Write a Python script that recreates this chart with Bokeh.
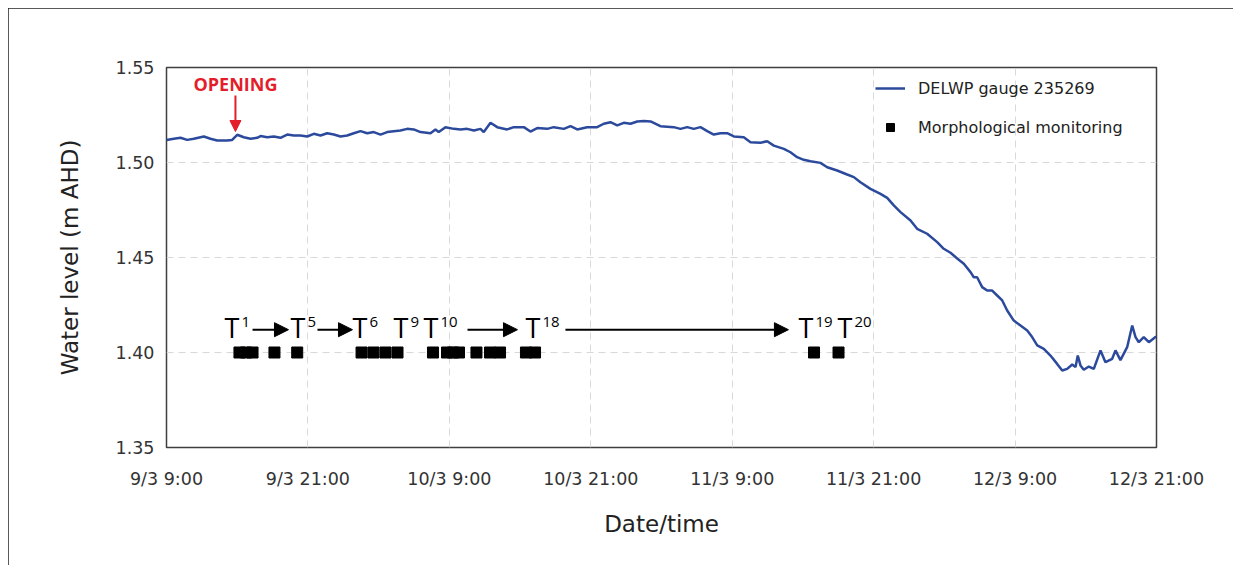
from bokeh.plotting import figure
from bokeh.models import (ColumnDataSource, FixedTicker, Legend, LegendItem,
                          Arrow, NormalHead, Label)
from bokeh.core.properties import value
from bokeh.embed import file_html
from bokeh.resources import INLINE

# ---------------- data ----------------
# hours since 9/3 9:00
hours = [0.0, 0.62, 1.19, 1.75, 2.32, 3.17, 3.73, 4.30, 5.15, 5.57, 6.00, 6.56, 7.13, 7.69,
         7.98, 8.54, 9.11, 9.67, 10.24, 10.80, 11.37, 11.94, 12.50, 13.07, 13.63, 14.20,
         14.76, 15.33, 15.89, 16.46, 17.03, 17.59, 18.16, 18.72, 19.29, 19.85, 20.42, 20.98,
         21.55, 22.40, 22.82, 23.10, 23.67, 24.38, 24.94, 25.51, 26.08, 26.64, 26.92, 27.49,
         28.06, 28.90, 29.47, 30.32, 30.88, 31.45, 32.30, 32.86, 33.71, 34.28, 34.85, 35.69,
         36.54, 37.10, 37.67, 38.24, 38.80, 39.37, 39.94, 40.50, 41.07, 41.91, 43.04,
         43.61, 44.18, 44.74, 45.31, 45.88, 46.44, 47.00, 47.57, 48.14, 48.98, 49.55, 50.40,
         50.97, 51.53, 52.38, 52.94, 53.51, 54.07, 54.64, 55.49, 56.06, 56.90, 57.75, 58.32,
         58.88, 59.73, 60.58, 61.15, 61.71, 62.28, 63.13, 63.69, 64.54, 65.39, 65.95, 66.52,
         67.09, 67.65, 68.22, 68.50, 68.78, 69.21, 69.63, 70.06, 70.48, 70.91, 71.33, 71.89,
         72.46, 73.03, 73.45, 73.88, 74.44, 75.00, 75.57, 76.00, 76.42, 76.85, 77.13, 77.32,
         77.55, 77.83, 78.26, 78.68, 79.25, 79.67, 80.24, 80.52, 80.94, 81.51, 81.94, 82.22,
         82.50, 82.92, 83.35, 83.91, 84.0]
level = [1.5119, 1.5125, 1.5130, 1.5119, 1.5125, 1.5137, 1.5125, 1.5116, 1.5116, 1.5119,
         1.5146, 1.5133, 1.5125, 1.5130, 1.5139, 1.5133, 1.5137, 1.5130, 1.5147, 1.5142,
         1.5142, 1.5137, 1.5151, 1.5142, 1.5154, 1.5147, 1.5137, 1.5142, 1.5154, 1.5165,
         1.5154, 1.5160, 1.5147, 1.5160, 1.5165, 1.5168, 1.5177, 1.5174,
         1.5160, 1.5154, 1.5174, 1.5160, 1.5186, 1.5177, 1.5174, 1.5177, 1.5168, 1.5177,
         1.5160, 1.5209, 1.5186, 1.5174, 1.5186, 1.5186, 1.5163, 1.5181, 1.5177, 1.5186,
         1.5177, 1.5191, 1.5174, 1.5186, 1.5186, 1.5204, 1.5212, 1.5195, 1.5209, 1.5204,
         1.5216, 1.5218, 1.5216, 1.5191, 1.5186,
         1.5177, 1.5186, 1.5177, 1.5186, 1.5165, 1.5147, 1.5154, 1.5154, 1.5137, 1.5133,
         1.5107, 1.5104, 1.5112, 1.5089, 1.5072, 1.5054, 1.5028, 1.5014, 1.5007, 1.4998,
         1.4975, 1.4958, 1.4937, 1.4923, 1.4896, 1.4861, 1.4835, 1.4814, 1.4774, 1.4739,
         1.4695, 1.4651, 1.4625, 1.4581, 1.4546, 1.4525,
         1.4495, 1.4467, 1.4423, 1.4396, 1.4396, 1.4344, 1.4326, 1.4326, 1.4300, 1.4274,
         1.4221, 1.4168, 1.4142, 1.4116, 1.4081, 1.4037, 1.4019, 1.3984, 1.3940, 1.3905,
         1.3914, 1.3937, 1.3923, 1.3984, 1.3932, 1.3909, 1.3926, 1.3914, 1.4011, 1.3949,
         1.3967, 1.4011, 1.3960, 1.4028, 1.4142, 1.4081, 1.4054, 1.4081, 1.4054, 1.4081,
         1.4081]

survey_hours = [6.19, 6.75, 7.30, 9.16, 11.09, 16.55, 17.56, 18.58, 19.60, 22.61, 23.80,
                24.31, 24.82, 26.30, 27.45, 28.30, 30.50, 31.27, 54.94, 57.02]
survey_level = [1.40] * len(survey_hours)

x_tick_hours = [0, 12, 24, 36, 48, 60, 72, 84]
x_tick_labels = ["9/3 9:00", "9/3 21:00", "10/3 9:00", "10/3 21:00",
                 "11/3 9:00", "11/3 21:00", "12/3 9:00", "12/3 21:00"]
y_ticks = [1.35, 1.40, 1.45, 1.50, 1.55]

survey_tags = ["1", "5", "6", "9", "10", "18", "19", "20"]
tag_hours = [4.92, 10.52, 15.78, 19.26, 21.81, 30.46, 53.62, 56.93]
arrow_start = [7.30, 12.81, 25.54, 33.85]
arrow_end = [10.35, 15.78, 29.78, 52.77]
opening_hour = 5.85

FONT = "Open Sans"
AXFONT = "DejaVu Sans"
BLUE = "#2c4a9c"
RED = "#e31e2a"

p = figure(width=1225, height=557, x_range=(0, 84), y_range=(1.35, 1.55),
           output_backend="svg", toolbar_location=None,
           min_border_left=158, min_border_right=77, min_border_top=59,
           min_border_bottom=118, background_fill_color="white",
           border_fill_color="white")
p.styles = {"outline": "1.5px solid #222222", "outline-offset": "-1.5px",
            "margin-left": "8px", "margin-top": "8px"}

p.outline_line_color = "#3f3f3f"
p.outline_line_width = 1.5

# axes
p.xaxis.ticker = FixedTicker(ticks=x_tick_hours)
p.xaxis.major_label_overrides = {h: lab for h, lab in zip(x_tick_hours, x_tick_labels)}
p.yaxis.ticker = FixedTicker(ticks=y_ticks)
p.yaxis.major_label_overrides = {t: f"{t:.2f}" for t in y_ticks}
for ax in (p.xaxis[0], p.yaxis[0]):
    ax.axis_line_color = None
    ax.major_tick_line_color = None
    ax.minor_tick_line_color = None
    ax.major_tick_out = 0
    ax.major_tick_in = 0
    ax.major_label_text_font = AXFONT
    ax.major_label_text_font_size = "17.5px"
    ax.major_label_text_color = "#333333"
    ax.axis_label_text_font = AXFONT
    ax.axis_label_text_font_size = "23px"
    ax.axis_label_text_font_style = "normal"
    ax.axis_label_text_color = "#222222"
p.xaxis.axis_label = "Date/time"
p.yaxis.axis_label = "Water level (m AHD)"
p.xaxis.major_label_standoff = 21
p.xaxis.axis_label_standoff = 19
p.yaxis.major_label_standoff = 12
p.yaxis.axis_label_standoff = 30

for g in (p.xgrid[0], p.ygrid[0]):
    g.grid_line_color = "#d9d9d9"
    g.grid_line_dash = "7 5"
    g.grid_line_width = 1

# data
r_line = p.line(hours, level, line_color=BLUE, line_width=2.5)
r_sq = p.scatter(survey_hours, survey_level, marker="square", size=11,
                 fill_color="black", line_color="black")

# T labels
tag_src = ColumnDataSource(dict(x=tag_hours, y=[1.4129] * len(tag_hours),
                                ys=[1.4160] * len(tag_hours),
                                t=["T"] * len(tag_hours), s=survey_tags))
p.text(x="x", y="y", text="t", source=tag_src, text_font=value(FONT),
       text_font_size="27px", text_color="black", text_baseline="alphabetic",
       text_align="left")
p.text(x="x", y="ys", text="s", source=tag_src, text_font=value(FONT),
       text_font_size="15px", text_color="black", text_baseline="alphabetic",
       text_align="left", x_offset=17)

arr_src = ColumnDataSource(dict(x0=arrow_start, x1=arrow_end,
                                y0=[1.4120] * len(arrow_start),
                                y1=[1.4120] * len(arrow_start)))
p.add_layout(Arrow(end=NormalHead(size=14, fill_color="black", line_color="black"),
                   x_start="x0", y_start="y0", x_end="x1", y_end="y1",
                   source=arr_src, line_color="black", line_width=2))

# opening annotation
p.add_layout(Arrow(end=NormalHead(size=11, fill_color=RED, line_color=RED),
                   x_start=opening_hour, y_start=1.5353, x_end=opening_hour, y_end=1.5163,
                   line_color=RED, line_width=2))
p.add_layout(Label(x=opening_hour, y=1.5412, text="OPENING", text_align="center",
                   text_baseline="alphabetic", text_font=FONT, text_font_size="18px",
                   text_font_style="bold", text_color=RED))

legend = Legend(items=[LegendItem(label="DELWP gauge 235269", renderers=[r_line]),
                       LegendItem(label="Morphological monitoring", renderers=[r_sq])],
                location=(709, 310), glyph_width=30, glyph_height=20, label_height=20,
                spacing=19, label_standoff=13, padding=0, margin=0,
                border_line_color=None, background_fill_alpha=0,
                label_text_font=AXFONT, label_text_font_size="16px",
                label_text_color="#222222")
p.add_layout(legend)

open("out.html", "w").write(file_html(p, INLINE))
